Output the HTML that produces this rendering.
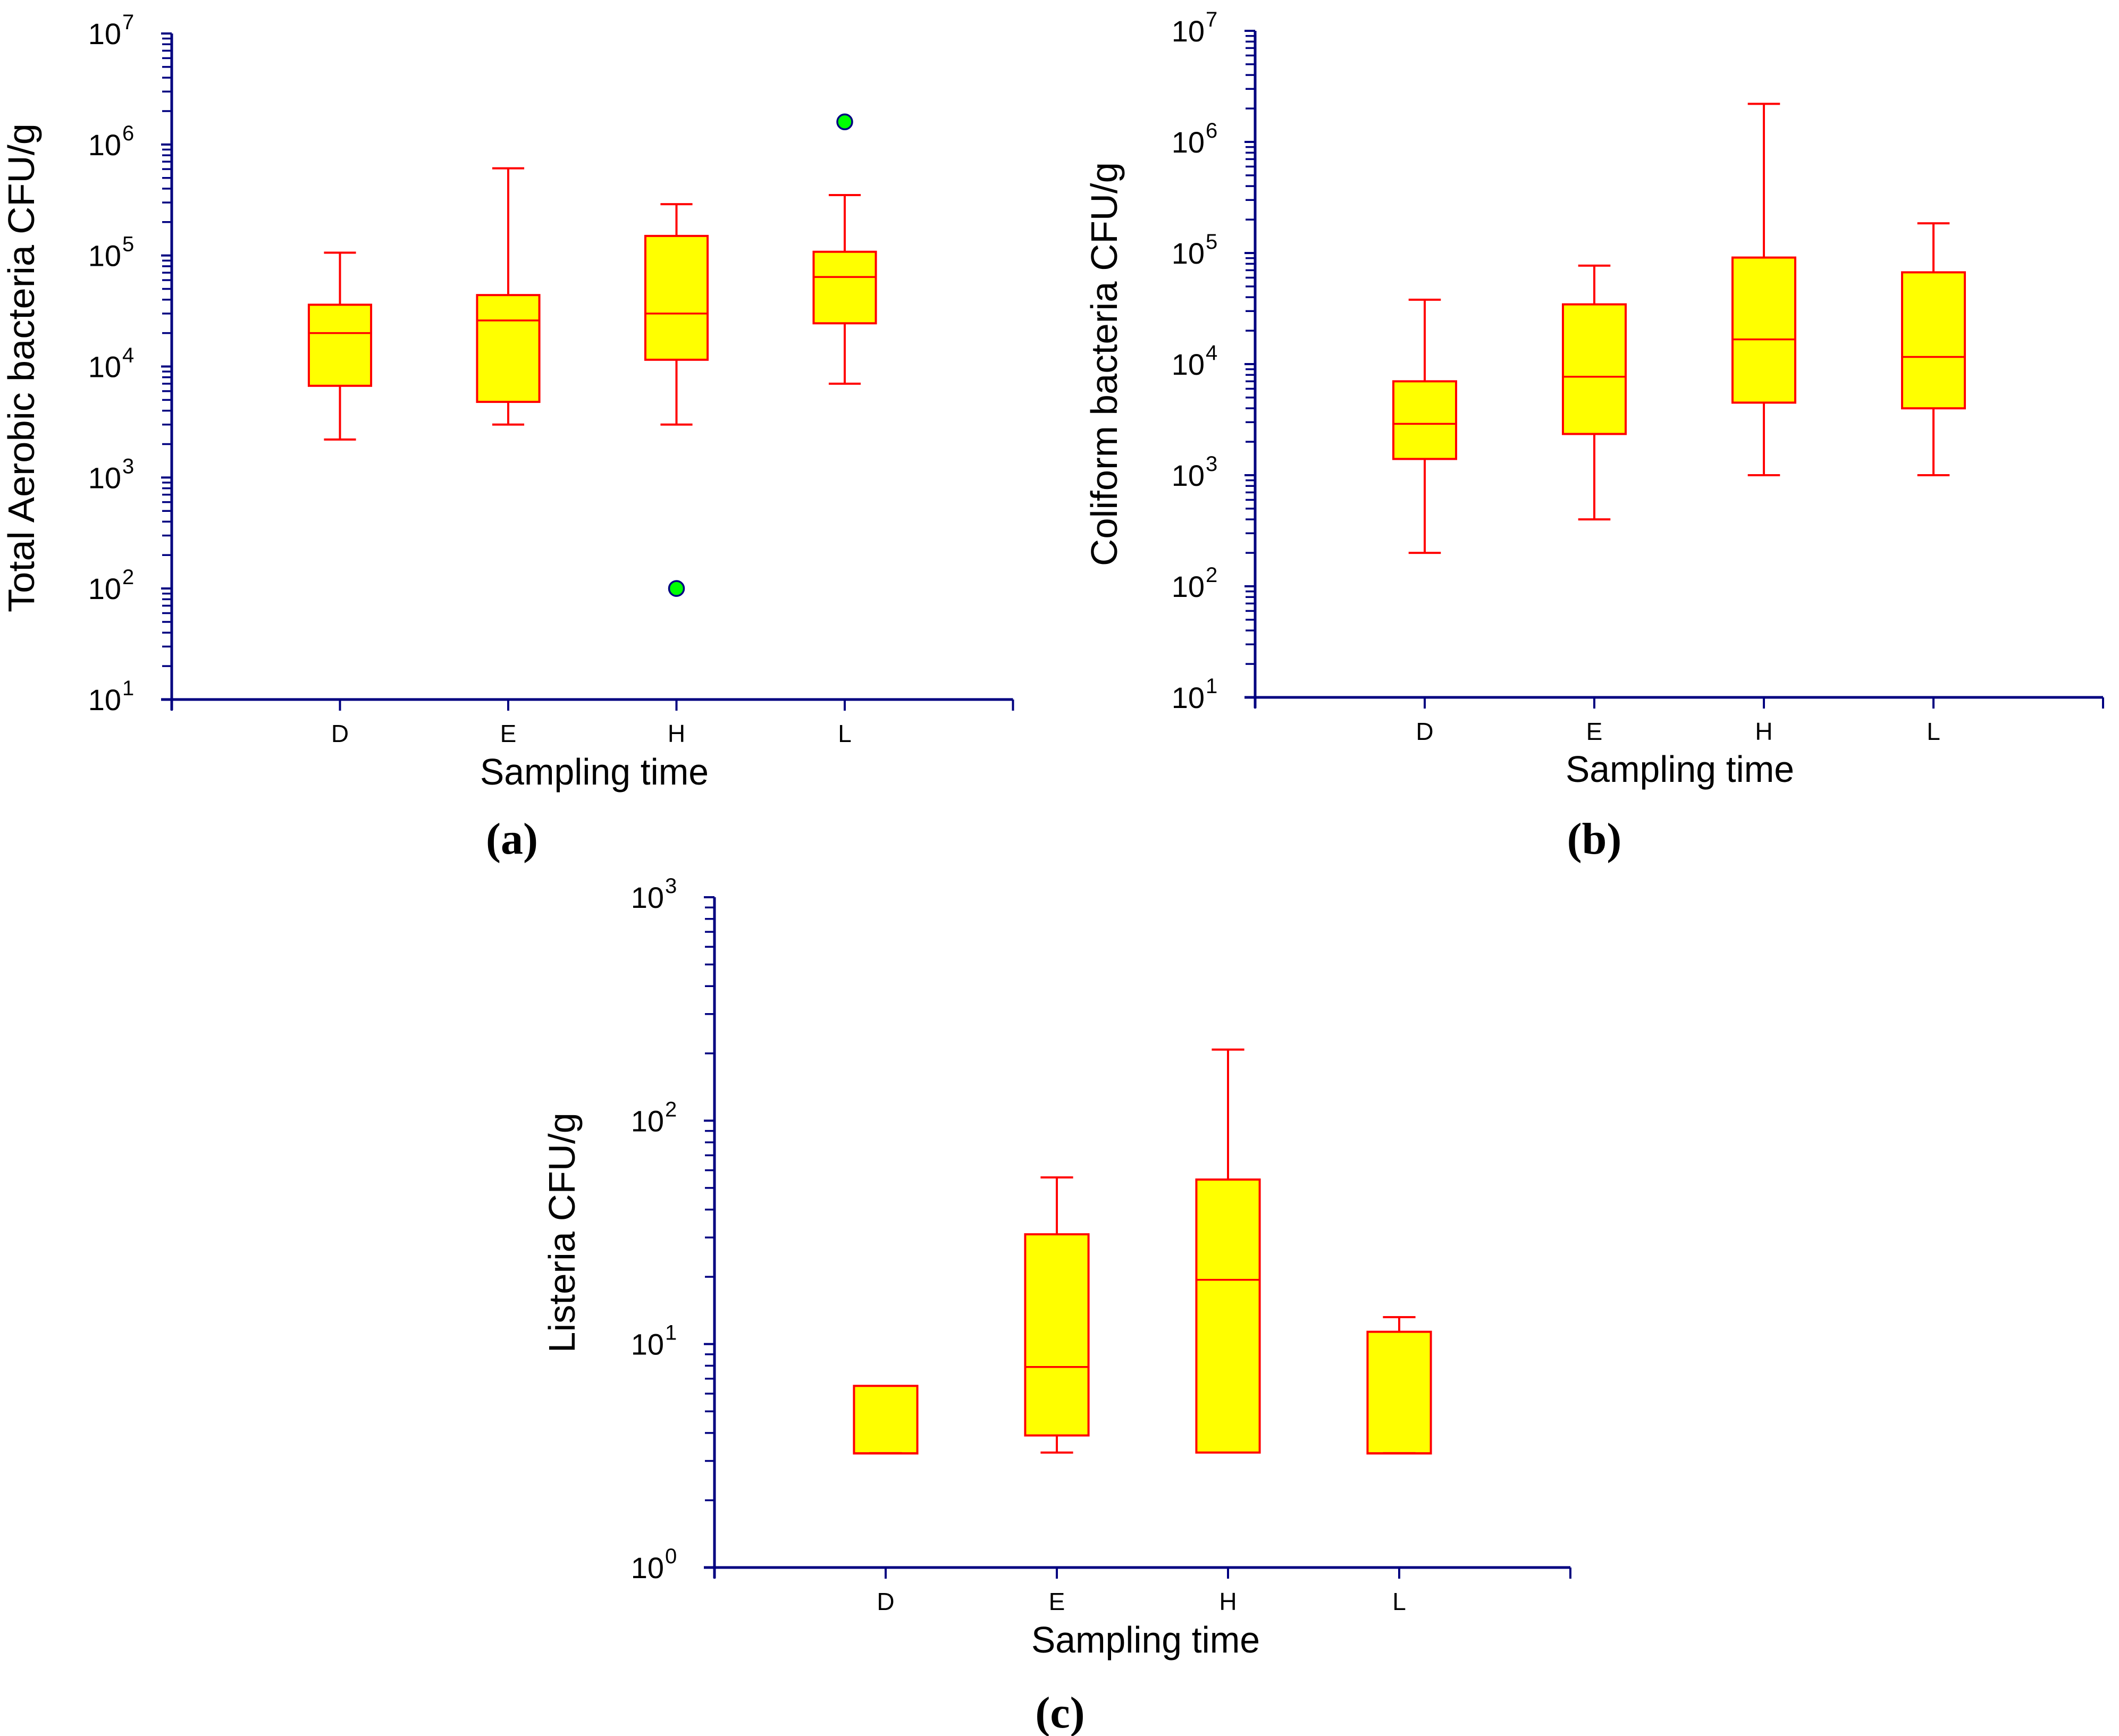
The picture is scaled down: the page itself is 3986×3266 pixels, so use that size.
<!DOCTYPE html>
<html><head><meta charset="utf-8"><style>
html,body{margin:0;padding:0;background:#fff}
svg{display:block}
text{font-family:"Liberation Sans",Arial,sans-serif}
</style></head><body>
<svg id="fig" width="3986" height="3266" viewBox="0 0 3986 3266" xmlns="http://www.w3.org/2000/svg"></svg>
<script>
const categories = ["D","E","H","L"];
// panel a: Total aerobic bacteria
const aMin = [2200, 3000, 3000, 7000];
const aQ1 = [6700, 4800, 11500, 24500];
const aMed = [20000, 26000, 30000, 64000];
const aQ3 = [36000, 44000, 150000, 108000];
const aMax = [106000, 610000, 290000, 350000];
const aOutCat = [2, 3];
const aOutVal = [100, 1600000];
// panel b: Coliform bacteria
const bMin = [200, 400, 1000, 1000];
const bQ1 = [1400, 2350, 4500, 4000];
const bMed = [2900, 7700, 16700, 11600];
const bQ3 = [7000, 34500, 91000, 67000];
const bMax = [38000, 77000, 2200000, 185000];
// panel c: Listeria
const cMin = [3.25, 3.27, 3.27, 3.25];
const cQ1 = [3.24, 3.9, 3.27, 3.24];
const cMed = [3.25, 7.9, 19.4, 3.25];
const cQ3 = [6.5, 31, 54.5, 11.35];
const cMax = [6.5, 55.7, 208, 13.2];

const NS = "http://www.w3.org/2000/svg";
const svg = document.getElementById('fig');
function el(tag, attrs, parent){
  const e = document.createElementNS(NS, tag);
  for (const k in attrs) e.setAttribute(k, attrs[k]);
  (parent||svg).appendChild(e);
  return e;
}
const NAVY = "#000080", RED = "#ff0000";

function panel(p){
  const g = el('g', {});
  
  
  const decH = (p.y1 - p.y0) / (p.dmax - p.dmin);
  const yS = v => p.y1 - (Math.log10(v) - p.dmin) * decH;
  const xS = i => p.x0 + (i + 1) * p.unit;
  // axes
  const ya = el('line', {x1:p.x0, y1:p.y0, x2:p.x0, y2:p.y1+20, stroke:NAVY, 'stroke-width':5}, g);
  
  
  const xa = el('line', {x1:p.x0-20, y1:p.y1, x2:p.x0+5*p.unit, y2:p.y1, stroke:NAVY, 'stroke-width':5}, g);
  
  
  // y ticks
  for (let d = p.dmin; d <= p.dmax; d++){
    const yy = yS(Math.pow(10, d));
    const t = el('line', {x1:p.x0-20, y1:yy, x2:p.x0, y2:yy, stroke:NAVY, 'stroke-width':4}, g);
    
    
    const lab = el('text', {x:p.x0-95, y:yy+20, 'font-size':56, 'text-anchor':'end', fill:'#000'}, g);
    
    
    lab.textContent = '10';
    const sup = el('text', {x:p.x0-93, y:yy-8, 'font-size':40, 'text-anchor':'start', fill:'#000'}, g);
    
    
    sup.textContent = String(d);
    if (d < p.dmax){
      for (let m = 2; m <= 9; m++){
        const my = yS(m * Math.pow(10, d));
        const mt = el('line', {x1:p.x0-18, y1:my, x2:p.x0, y2:my, stroke:NAVY, 'stroke-width':3.5}, g);
        
        
      }
    }
  }
  // x ticks
  for (let i = 0; i <= 5; i++){
    const xx = p.x0 + i * p.unit;
    const t = el('line', {x1:xx, y1:p.y1, x2:xx, y2:p.y1+21, stroke:NAVY, 'stroke-width':4}, g);
    
    
  }
  categories.forEach((c, i) => {
    const t = el('text', {x:xS(i), y:p.y1+80, 'font-size':46, 'text-anchor':'middle', fill:'#000'}, g);
    
    
    t.textContent = c;
  });
  // boxes
  const hw = 0.185 * p.unit, cw = 0.095 * p.unit;
  categories.forEach((c, i) => {
    const cx = xS(i);
    const bg = el('g', {}, g);
    
    
    const yMax = yS(p.max[i]), yQ3 = yS(p.q3[i]), yQ1 = yS(p.q1[i]), yMin = yS(p.min[i]), yMed = yS(p.med[i]);
    if (p.max[i] > p.q3[i]){
      el('line', {x1:cx, y1:yMax, x2:cx, y2:yQ3, stroke:RED, 'stroke-width':4}, bg);
      el('line', {x1:cx-cw, y1:yMax, x2:cx+cw, y2:yMax, stroke:RED, 'stroke-width':4}, bg);
    }
    if (p.min[i] < p.q1[i]){
      el('line', {x1:cx, y1:yQ1, x2:cx, y2:yMin, stroke:RED, 'stroke-width':4}, bg);
      el('line', {x1:cx-cw, y1:yMin, x2:cx+cw, y2:yMin, stroke:RED, 'stroke-width':4}, bg);
    }
    el('rect', {x:cx-hw, y:yQ3, width:2*hw, height:Math.max(yQ1-yQ3, 1), fill:'#ffff00', stroke:RED, 'stroke-width':4}, bg);
    el('line', {x1:cx-hw, y1:yMed, x2:cx+hw, y2:yMed, stroke:RED, 'stroke-width':3.5}, bg);
    if (Math.abs(yMed - yQ1) < 4) el('line', {x1:cx-cw, y1:yMin, x2:cx+cw, y2:yMin, stroke:RED, 'stroke-width':4}, bg);
  });
  if (p.outCat){
    p.outCat.forEach((ci, k) => {
      const o = el('circle', {cx:xS(ci), cy:yS(p.outVal[k]), r:14, fill:'#00ff00', stroke:NAVY, 'stroke-width':3.5}, g);
      
      
    });
  }
  // titles
  const xt = el('text', {x:p.xtX, y:p.xtY, 'font-size':70, 'text-anchor':'middle', fill:'#000', textLength:430, lengthAdjust:'spacingAndGlyphs'}, g);
  
  
  xt.textContent = 'Sampling time';
  const yt = el('text', {x:0, y:0, 'font-size':70, 'text-anchor':'middle', fill:'#000', textLength:p.ytLen, lengthAdjust:'spacingAndGlyphs', transform:'translate(' + p.ytX + ',' + p.ytY + ') rotate(-90)'}, g);
  
  
  yt.textContent = p.ytitle;
  const lab = el('text', {x:p.labX, y:p.labY, 'font-size':84, 'text-anchor':'middle', 'font-weight':'bold', fill:'#000', style:'font-family:"Liberation Serif",serif'}, g);
  
  
  lab.textContent = '(' + p.id + ')';
}

panel({id:'a', x0:323, y0:63, y1:1316, unit:316.5, dmin:1, dmax:7,
  min:aMin, q1:aQ1, med:aMed, q3:aQ3, max:aMax, outCat:aOutCat, outVal:aOutVal,
  xtX:1118, xtY:1476, ytX:64, ytY:692, ytLen:920, ytitle:'Total Aerobic bacteria CFU/g', labX:963, labY:1606});
panel({id:'b', x0:2361, y0:58, y1:1312, unit:319, dmin:1, dmax:7,
  min:bMin, q1:bQ1, med:bMed, q3:bQ3, max:bMax,
  xtX:3160, xtY:1471, ytX:2101, ytY:685, ytLen:760, ytitle:'Coliform bacteria CFU/g', labX:2999, labY:1606});
panel({id:'c', x0:1344, y0:1688, y1:2949, unit:322, dmin:0, dmax:3,
  min:cMin, q1:cQ1, med:cMed, q3:cQ3, max:cMax,
  xtX:2155, xtY:3109, ytX:1081, ytY:2319, ytLen:452, ytitle:'Listeria CFU/g', labX:1994, labY:3250});
</script>
</body></html>
